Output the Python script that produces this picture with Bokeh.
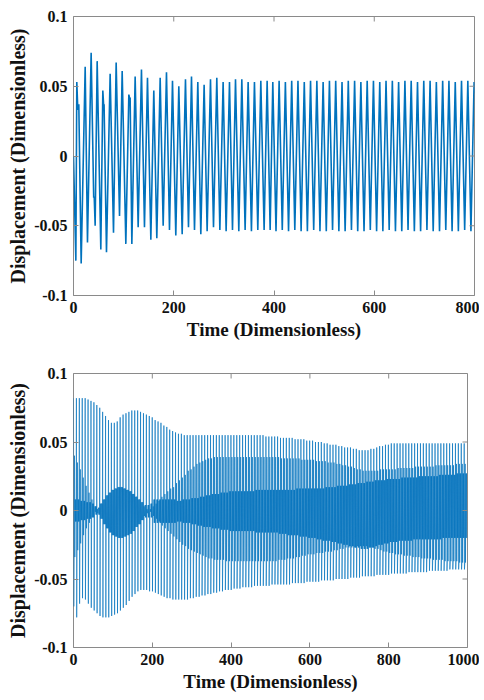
import math
from bokeh.plotting import figure
from bokeh.models import FixedTicker, Range1d
from bokeh.layouts import column
from bokeh.embed import file_html
from bokeh.resources import INLINE

# ---------------- data (values in thousandths) ----------------
X1_TICKS = [0, 200, 400, 600, 800]
X1_LABELS = ["0", "200", "400", "600", "800"]
X2_TICKS = [0, 200, 400, 600, 800, 1000]
X2_LABELS = ["0", "200", "400", "600", "800", "1000"]
Y_TICKS = [-0.1, -0.05, 0, 0.05, 0.1]
Y_LABELS = ["-0.1", "-0.05", "0", "0.05", "0.1"]
X_TITLE = "Time (Dimensionless)"
Y_TITLE = "Displacement (Dimensionless)"

# top panel: successive extrema of the trace
TOP_T = [0, 4.7, 6.6, 8.6, 10.6, 15.3, 23.3, 27.9, 35.2, 40.3, 41.3, 43.2, 47.2, 54.5, 58.5, 60.2, 61.0,
         65.8, 73.1, 79.8, 85.1, 91.8, 97.1, 104.4, 110.4, 112.2, 113.0, 116.4, 123.0, 129.0, 135.6,
         141.6, 147.6, 154.3, 160.2, 166.2, 172.9, 178.9, 185.5, 191.5, 197.5, 204.1, 210.1, 216.8,
         223.4, 229.4, 235.4, 241.4, 248.0, 254.0, 260.6, 266.6, 273.3, 279.3, 285.9, 292.0, 298.5,
         304.5, 311.2, 317.2, 323.2, 329.8, 335.8, 342.4, 348.4, 355.0, 361.0, 367.7, 373.7, 380.3,
         386.3, 392.3, 397.6, 404.0, 410.2, 416.5, 422.7, 429.0, 435.3, 441.5, 447.8, 454.1, 460.4,
         466.6, 472.9, 479.2, 485.5, 491.7, 498.0, 504.3, 510.6, 516.8, 523.1, 529.4, 535.7, 541.9,
         548.2, 554.5, 560.8, 567.0, 573.3, 579.6, 585.9, 592.1, 598.4, 604.7, 611.0, 617.2, 623.5,
         629.8, 636.1, 642.3, 648.6, 654.9, 661.2, 667.4, 673.7, 680.0, 686.3, 692.5, 698.8, 705.1,
         711.4, 717.6, 723.9, 730.2, 736.5, 742.7, 749.0, 755.3, 761.6, 767.8, 774.1, 780.4, 786.7,
         792.9, 799.2, 800.0]
TOP_Y = [0, -75, 53, 33, 37, -77, 64, -62, 74, -30, -29, -50, 68, -67, 47, 36, 37,
         -69, 59, -55, 67, -43, 61, -63, 44, 41, 42, -63, 57, -51, 62,
         -51, 56, -60, 47, -59, 56, -50, 60, -53, 54, -57, 50, -56,
         55, -51, 57, -53, 53, -56, 51, -54, 55, -51, 56, -53, 53,
         -54, 53, -53, 55, -54, 55, -53, 53, -54, 53, -53, 54, -53,
         54, -53, 53, -54, 54, -53, 53, -54, 54, -53, 54, -54, 53,
         -54, 54, -53, 54, -54, 53, -54, 54, -53, 54, -54, 53, -54,
         54, -53, 54, -54, 53, -54, 54, -53, 54, -54, 53, -54, 54,
         -53, 54, -54, 53, -54, 54, -53, 54, -54, 53, -54, 54, -53,
         54, -54, 53, -54, 54, -53, 54, -54, 53, -54, 54, -53, 54,
         -54, 53, 45]

# bottom panel: one entry per oscillation cycle
BOT_T = [0, 7.4, 14.8, 22.2, 29.6, 37, 44.4, 51.8, 59.2, 66.6,
         74, 81.4, 88.8, 96.2, 103.6, 111, 118.4, 125.8, 133.2, 140.6,
         148, 155.4, 162.8, 170.2, 177.6, 185, 192.4, 199.8, 207.2, 214.6,
         222, 229.4, 236.8, 244.2, 251.6, 259, 266.4, 273.8, 281.2, 288.6,
         296, 303.4, 310.8, 318.2, 325.6, 333, 340.4, 347.8, 355.2, 362.6,
         370, 377.4, 384.8, 392.2, 399.6, 407, 414.4, 421.8, 429.2, 436.6,
         444, 451.4, 458.8, 466.2, 473.6, 481, 488.4, 495.8, 503.2, 510.6,
         518, 525.4, 532.8, 540.2, 547.6, 555, 562.4, 569.8, 577.2, 584.6,
         592, 599.4, 606.8, 614.2, 621.6, 629, 636.4, 643.8, 651.2, 658.6,
         666, 673.4, 680.8, 688.2, 695.6, 703, 710.4, 717.8, 725.2, 732.6,
         740, 747.4, 754.8, 762.2, 769.6, 777, 784.4, 791.8, 799.2, 806.6,
         814, 821.4, 828.8, 836.2, 843.6, 851, 858.4, 865.8, 873.2, 880.6,
         888, 895.4, 902.8, 910.2, 917.6, 925, 932.4, 939.8, 947.2, 954.6,
         962, 969.4, 976.8, 984.2, 991.6]
BOT_UP = [82, 82, 82, 82, 82, 81, 80, 79, 77, 75,
          72, 69, 66, 64, 64, 65, 68, 70, 71, 72,
          73, 73, 73, 72, 71, 70, 69, 68, 66, 65,
          64, 62, 61, 59, 58, 57, 56, 56, 55, 55,
          55, 55, 55, 55, 55, 55, 55, 55, 55, 55,
          55, 55, 55, 55, 55, 55, 55, 55, 55, 55,
          55, 55, 55, 55, 55, 55, 54, 54, 54, 54,
          54, 53, 53, 53, 53, 53, 52, 52, 52, 52,
          51, 51, 51, 50, 50, 50, 49, 49, 48, 48,
          48, 47, 47, 46, 46, 46, 45, 45, 44, 44,
          44, 44, 45, 45, 46, 47, 47, 48, 48, 49,
          49, 49, 49, 49, 49, 49, 49, 49, 49, 49,
          49, 49, 49, 49, 49, 49, 49, 49, 49, 49,
          49, 49, 49, 49, 49]
BOT_LO = [-70, -78, -68, -64, -65, -68, -71, -73, -75, -77,
          -78, -78, -78, -77, -76, -75, -73, -71, -69, -66,
          -63, -61, -59, -58, -58, -58, -59, -59, -60, -61,
          -62, -63, -64, -64, -65, -65, -65, -65, -65, -65,
          -64, -64, -63, -63, -62, -62, -61, -61, -60, -60,
          -59, -59, -58, -58, -58, -57, -57, -57, -56, -56,
          -56, -56, -55, -55, -55, -55, -55, -55, -54, -54,
          -54, -54, -54, -54, -54, -53, -53, -53, -53, -53,
          -52, -52, -52, -52, -52, -51, -51, -51, -51, -51,
          -50, -50, -50, -50, -50, -49, -49, -49, -49, -48,
          -48, -48, -48, -48, -47, -47, -47, -47, -47, -46,
          -46, -46, -46, -46, -46, -45, -45, -45, -45, -45,
          -45, -45, -44, -44, -44, -44, -44, -44, -44, -43,
          -43, -43, -43, -43, -43]
BOT_A = [40, 35, 30, 24, 18, 13, 8, 3, -2, -6,
         -10, -13, -16, -18, -19, -20, -20, -19, -18, -17,
         -15, -12, -10, -7, -4, -2, 1, 3, 5, 7,
         10, 12, 14, 16, 17, 20, 22, 24, 26, 29,
         30, 32, 34, 35, 36, 37, 38, 38, 39, 39,
         39, 39, 39, 39, 39, 39, 39, 39, 39, 39,
         39, 39, 39, 39, 39, 39, 39, 39, 39, 39,
         39, 38, 38, 38, 38, 38, 38, 38, 37, 37,
         37, 37, 37, 36, 36, 36, 36, 35, 35, 35,
         34, 34, 33, 33, 32, 32, 31, 30, 30, 29,
         29, 29, 29, 29, 29, 30, 30, 30, 30, 30,
         30, 31, 31, 31, 31, 31, 31, 32, 32, 32,
         32, 32, 32, 32, 33, 33, 33, 33, 33, 33,
         33, 34, 34, 34, 34]
BOT_B = [-34, -29, -24, -18, -13, -9, -5, -1, 1, 5,
         8, 11, 13, 15, 16, 17, 17, 16, 15, 14,
         12, 10, 8, 6, 3, 1, -1, -4, -6, -8,
         -11, -13, -15, -17, -19, -21, -23, -25, -26, -28,
         -29, -30, -31, -32, -33, -34, -35, -35, -36, -36,
         -36, -36, -37, -37, -37, -37, -37, -37, -37, -37,
         -37, -37, -37, -37, -37, -37, -37, -37, -37, -37,
         -36, -36, -36, -35, -35, -35, -34, -34, -33, -33,
         -32, -32, -32, -31, -31, -31, -30, -30, -30, -29,
         -29, -28, -28, -27, -27, -27, -27, -26, -26, -26,
         -26, -27, -27, -28, -28, -29, -30, -30, -31, -31,
         -32, -32, -32, -33, -33, -33, -34, -34, -34, -35,
         -35, -35, -35, -36, -36, -36, -36, -37, -37, -37,
         -37, -37, -38, -38, -38]
BOT_CU = [8, 8, 7, 7, 6, 6, 5, 3, 2, 5,
          8, 11, 13, 15, 16, 17, 17, 16, 15, 14,
          12, 10, 8, 6, 4, 4, 5, 8, 8, 8,
          8, 8, 8, 8, 8, 7, 7, 8, 8, 8,
          9, 9, 9, 10, 10, 11, 11, 12, 12, 12,
          13, 13, 13, 14, 14, 14, 14, 14, 14, 14,
          14, 14, 15, 15, 15, 15, 15, 15, 15, 15,
          15, 15, 15, 15, 15, 15, 16, 16, 16, 16,
          16, 16, 16, 16, 16, 16, 17, 17, 17, 17,
          18, 18, 18, 18, 19, 19, 19, 20, 20, 20,
          21, 21, 21, 22, 22, 22, 22, 23, 23, 23,
          23, 23, 24, 24, 24, 24, 24, 24, 25, 25,
          25, 25, 25, 25, 25, 26, 26, 26, 26, 26,
          26, 27, 27, 27, 27]
BOT_CL = [-8, -8, -7, -7, -6, -6, -5, -3, -3, -6,
          -10, -13, -16, -18, -19, -20, -20, -19, -18, -17,
          -15, -12, -10, -7, -5, -5, -5, -9, -9, -9,
          -9, -9, -9, -9, -9, -8, -8, -9, -9, -9,
          -10, -10, -11, -11, -12, -12, -12, -13, -13, -13,
          -14, -14, -14, -15, -15, -15, -15, -15, -15, -15,
          -15, -15, -16, -16, -16, -16, -16, -16, -16, -16,
          -17, -17, -17, -18, -18, -18, -18, -19, -19, -19,
          -20, -20, -20, -21, -21, -22, -22, -22, -23, -23,
          -24, -24, -25, -25, -26, -26, -27, -27, -28, -28,
          -28, -27, -27, -26, -25, -25, -24, -24, -23, -23,
          -23, -22, -22, -22, -22, -22, -21, -21, -21, -21,
          -21, -21, -21, -21, -21, -21, -20, -20, -20, -20,
          -20, -20, -20, -20, -20]

# ---------------- styling ----------------
FONT = "Liberation Serif"
LINE_COLOR = "#0072BD"
BOX_COLOR = "#8a8a8a"
TEXT_COLOR = "#111111"
TICK_LEN = 5
# timing of the turning points inside one cycle (order: up, low, B, A, B, core+, core-, core+, core-)
CYCLE_OFFSETS = [0.0, 0.7, 1.6, 2.5, 3.4, 4.3, 5.1, 5.9, 6.7]


def style(p, xticks, xlabels):
    p.grid.visible = False
    p.outline_line_color = BOX_COLOR
    p.outline_line_width = 1
    p.background_fill_color = "white"
    p.border_fill_color = "white"
    for ax, ticks, labels in ((p.xaxis[0], xticks, xlabels), (p.yaxis[0], Y_TICKS, Y_LABELS)):
        ax.ticker = FixedTicker(ticks=ticks)
        ax.major_label_overrides = {float(k): v for k, v in zip(ticks, labels)}
        ax.major_label_text_font = FONT
        ax.major_label_text_font_style = "bold"
        ax.major_label_text_font_size = "16px"
        ax.major_label_text_color = TEXT_COLOR
        ax.axis_label_text_font = FONT
        ax.axis_label_text_font_style = "bold"
        ax.axis_label_text_color = TEXT_COLOR
        ax.axis_line_color = None
        ax.major_tick_in = TICK_LEN
        ax.major_tick_out = 0
        ax.major_tick_line_color = BOX_COLOR
        ax.minor_tick_line_color = None
    p.xaxis[0].axis_label = X_TITLE
    p.xaxis[0].axis_label_text_font_size = "19px"
    p.xaxis[0].major_label_standoff = 6
    p.xaxis[0].axis_label_standoff = 3
    p.yaxis[0].axis_label = Y_TITLE
    p.yaxis[0].axis_label_text_font_size = "20px"
    p.yaxis[0].major_label_standoff = 6
    p.yaxis[0].axis_label_standoff = 2
    # mirrored inward ticks on the right and top edges of the box
    x_end = p.x_range.end
    y_end = p.y_range.end
    p.ray(x=[x_end] * len(Y_TICKS), y=Y_TICKS, length=TICK_LEN, length_units="screen",
          angle=math.pi, line_color=BOX_COLOR, line_width=1)
    p.ray(x=xticks, y=[y_end] * len(xticks), length=TICK_LEN, length_units="screen",
          angle=-math.pi / 2, line_color=BOX_COLOR, line_width=1)


p1 = figure(frame_width=401, frame_height=279, output_backend="svg", toolbar_location=None,
            x_range=Range1d(0, 800), y_range=Range1d(-0.1, 0.1),
            min_border_left=70, min_border_right=8, min_border_top=16, min_border_bottom=51)
p1.line(TOP_T, [v / 1000 for v in TOP_Y], line_width=1.6, color=LINE_COLOR)
style(p1, X1_TICKS, X1_LABELS)

# bottom trace: turning points of every cycle, drawn stroke by stroke
xs, ys = [], []
for t, u, l, a, b, cu, cl in zip(BOT_T, BOT_UP, BOT_LO, BOT_A, BOT_B, BOT_CU, BOT_CL):
    for off, v in zip(CYCLE_OFFSETS, (u, l, b, a, b, cu, cl, cu, cl)):
        xs.append(t + off)
        ys.append(v / 1000)

p2 = figure(frame_width=394, frame_height=274, output_backend="svg", toolbar_location=None,
            x_range=Range1d(0, 1000), y_range=Range1d(-0.1, 0.1),
            min_border_left=73, min_border_right=12, min_border_top=27, min_border_bottom=51)
p2.segment(x0=xs[:-1], y0=ys[:-1], x1=xs[1:], y1=ys[1:], line_width=1.0,
           line_color=LINE_COLOR, line_alpha=0.65)
style(p2, X2_TICKS, X2_LABELS)

layout = column(p1, p2, spacing=0)
open("out.html", "w").write(file_html(layout, INLINE))
